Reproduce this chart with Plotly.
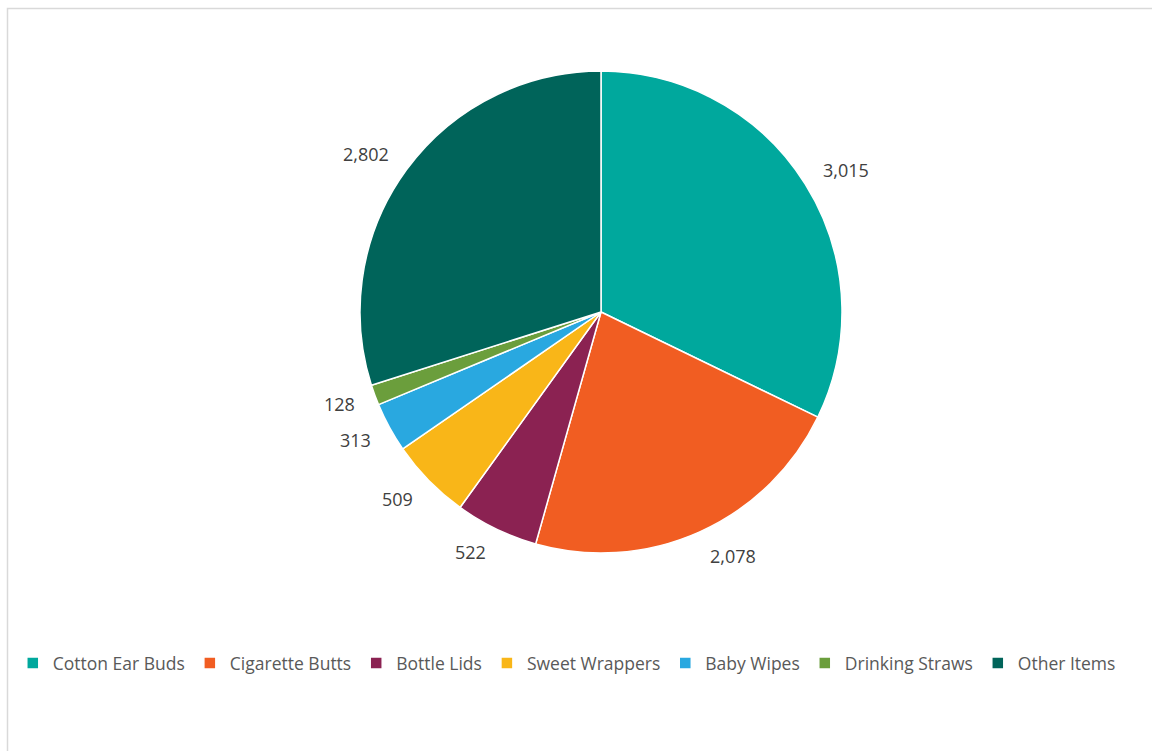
import math
import plotly.graph_objects as go

# Litter items counted
categories = ["Cotton Ear Buds", "Cigarette Butts", "Bottle Lids", "Sweet Wrappers",
              "Baby Wipes", "Drinking Straws", "Other Items"]
counts = [3015, 2078, 522, 509, 313, 128, 2802]
colors = ["#00A89D", "#F15D22", "#8B2252", "#F9B618", "#29A8E0", "#6B9E3C", "#00645A"]

W, H = 1152, 751
cx, cy, R = 601, 312, 241  # pie centre and radius in pixels
FONT = "Open Sans, Liberation Sans, sans-serif"

dom_x = [(cx - R) / W, (cx + R) / W]
dom_y = [1 - (cy + R) / H, 1 - (cy - R) / H]

fig = go.Figure(go.Pie(
    labels=categories,
    values=counts,
    marker=dict(colors=colors, line=dict(color="white", width=1.5)),
    sort=False,
    direction="clockwise",
    rotation=0,
    textinfo="none",
    hoverinfo="label+value",
    domain=dict(x=dom_x, y=dom_y),
))

# value labels just outside each slice, anchored on the side facing the pie
total = sum(counts)
cum = 0
annotations = []
for v in counts:
    mid = (cum + v / 2) / total * 2 * math.pi
    cum += v
    px = cx + (R + 19) * math.sin(mid)
    py = cy - (R + 26) * math.cos(mid)
    annotations.append(dict(
        x=px / W, y=1 - py / H, xref="paper", yref="paper",
        text=f"{v:,}", showarrow=False,
        font=dict(family=FONT, size=18, color="#404040"),
        xanchor="left" if math.sin(mid) >= 0 else "right", yanchor="middle",
    ))

fig.update_layout(
    width=W, height=H,
    margin=dict(l=0, r=0, t=0, b=0),
    paper_bgcolor="white",
    plot_bgcolor="white",
    showlegend=True,
    legend=dict(
        orientation="h", x=0.492, xanchor="center", y=1 - 663 / H, yanchor="middle",
        font=dict(family=FONT, size=17.5, color="#595959"),
        itemwidth=30, traceorder="normal",
    ),
    annotations=annotations,
    shapes=[dict(type="rect", xref="paper", yref="paper",
                 x0=7.5 / W, x1=1 + 5 / W, y0=-5 / H, y1=1 - 8.5 / H,
                 line=dict(color="#D9D9D9", width=1.5), fillcolor="rgba(0,0,0,0)")],
)

fig.write_html("out.html")
